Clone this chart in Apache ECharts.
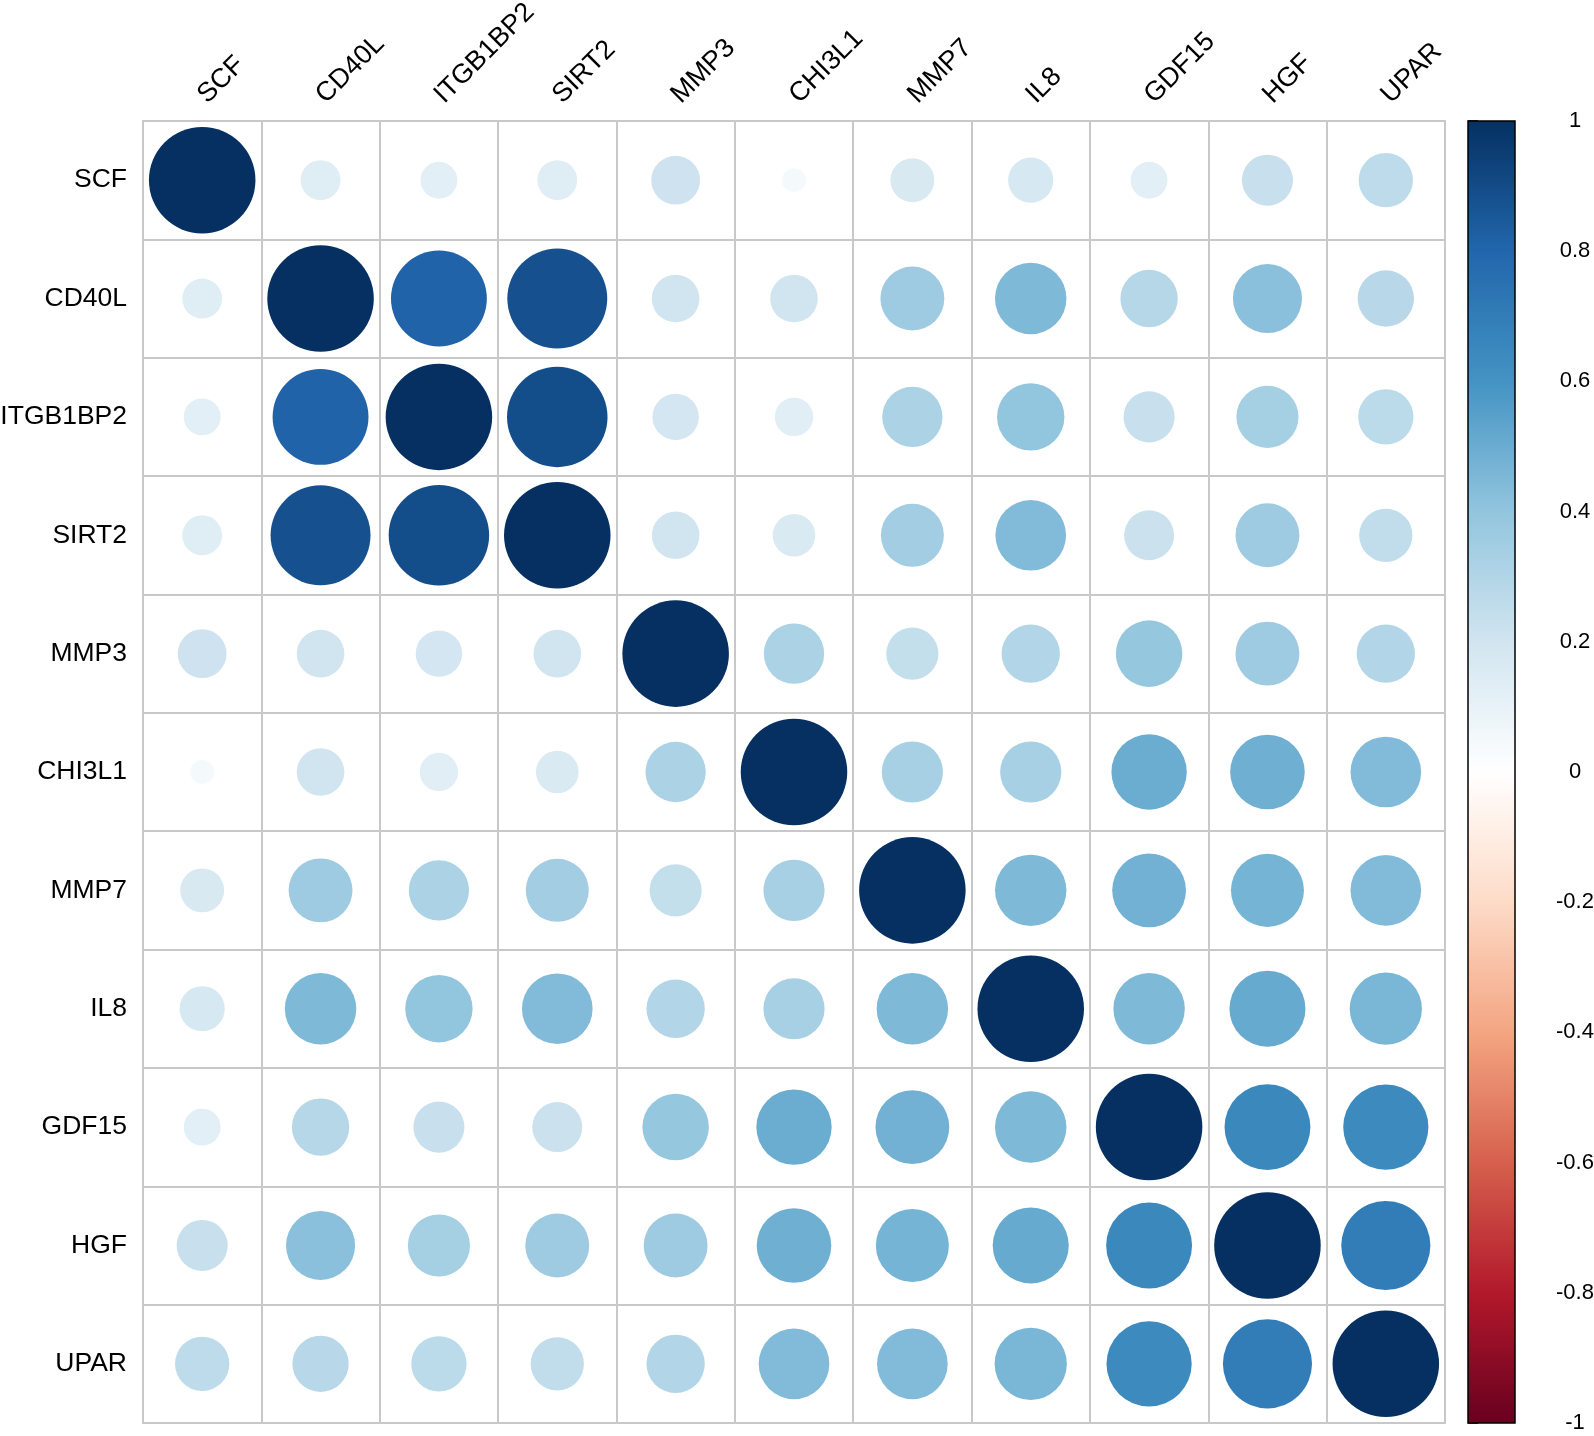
<!DOCTYPE html>
<html><head><meta charset="utf-8">
<script src="https://cdn.jsdelivr.net/npm/echarts@6/dist/echarts.min.js"></script>
<style>html,body{margin:0;padding:0;background:#fff}#c{width:1594px;height:1436px}</style>
</head><body><div id="c"></div>
<script>
const labels = ['SCF','CD40L','ITGB1BP2','SIRT2','MMP3','CHI3L1','MMP7','IL8','GDF15','HGF','UPAR'];
const rowSCF      = [1.00, 0.14, 0.12, 0.14, 0.21, 0.05, 0.17, 0.18, 0.12, 0.23, 0.26];
const rowCD40L    = [0.14, 1.00, 0.81, 0.88, 0.20, 0.20, 0.36, 0.45, 0.29, 0.42, 0.28];
const rowITGB1BP2 = [0.12, 0.81, 1.00, 0.89, 0.19, 0.13, 0.32, 0.40, 0.23, 0.34, 0.27];
const rowSIRT2    = [0.14, 0.88, 0.89, 1.00, 0.20, 0.16, 0.35, 0.44, 0.22, 0.36, 0.25];
const rowMMP3     = [0.21, 0.20, 0.19, 0.20, 1.00, 0.32, 0.24, 0.30, 0.39, 0.36, 0.30];
const rowCHI3L1   = [0.05, 0.20, 0.13, 0.16, 0.32, 1.00, 0.33, 0.33, 0.50, 0.49, 0.44];
const rowMMP7     = [0.17, 0.36, 0.32, 0.35, 0.24, 0.33, 1.00, 0.45, 0.48, 0.47, 0.44];
const rowIL8      = [0.18, 0.45, 0.40, 0.44, 0.30, 0.33, 0.45, 1.00, 0.45, 0.51, 0.46];
const rowGDF15    = [0.12, 0.29, 0.23, 0.22, 0.39, 0.50, 0.48, 0.45, 1.00, 0.65, 0.64];
const rowHGF      = [0.23, 0.42, 0.34, 0.36, 0.36, 0.49, 0.47, 0.51, 0.65, 1.00, 0.70];
const rowUPAR     = [0.26, 0.28, 0.27, 0.25, 0.30, 0.44, 0.44, 0.46, 0.64, 0.70, 1.00];
const corr = [rowSCF, rowCD40L, rowITGB1BP2, rowSIRT2, rowMMP3, rowCHI3L1, rowMMP7, rowIL8, rowGDF15, rowHGF, rowUPAR];
const palette = ['#67001F','#B2182B','#D6604D','#F4A582','#FDDBC7','#FFFFFF','#D1E5F0','#92C5DE','#4393C3','#2166AC','#053061'];

const FONT = 'Liberation Sans, Arial, Helvetica, sans-serif';
const gridW = 1302, gridH = 1302;
const cellSize = gridW / labels.length;

const points = [];
corr.forEach((row, i) => row.forEach((v, j) => points.push([j, i, v])));

const chart = echarts.init(document.getElementById('c'), null, {renderer: 'canvas'});
chart.setOption({
  animation: false,
  backgroundColor: '#fff',
  textStyle: {fontFamily: FONT},
  grid: [
    {left: 143, top: 121, width: gridW, height: gridH, show: true, borderColor: '#c8c8c8', borderWidth: 2,
     containLabel: false, outerBoundsMode: 'none'},
    {left: 1468, top: 121, width: 47, height: gridH, containLabel: false, outerBoundsMode: 'none'}
  ],
  xAxis: [
    {type: 'category', data: labels, gridIndex: 0, position: 'top',
     axisLine: {show: false}, axisTick: {show: false},
     splitLine: {show: true, interval: 0, lineStyle: {color: '#c8c8c8', width: 2}},
     axisLabel: {rotate: -45, interval: 0, margin: 22, fontSize: 27, color: '#000', fontFamily: FONT}},
    {type: 'value', gridIndex: 1, min: 0, max: 1, show: false}
  ],
  yAxis: [
    {type: 'category', data: labels, gridIndex: 0, inverse: true,
     axisLine: {show: false}, axisTick: {show: false},
     splitLine: {show: true, interval: 0, lineStyle: {color: '#c8c8c8', width: 2}},
     axisLabel: {interval: 0, margin: 16, fontSize: 26.5, color: '#000', fontFamily: FONT}},
    {type: 'value', gridIndex: 1, min: -1, max: 1, interval: 0.2, position: 'right',
     axisLine: {show: false}, splitLine: {show: false},
     axisTick: {show: true, length: 10, lineStyle: {color: '#000', width: 1.5}},
     axisLabel: {margin: 60, align: 'center', fontSize: 22, color: '#000', fontFamily: FONT}}
  ],
  visualMap: {
    type: 'continuous', show: false, min: -1, max: 1, dimension: 2, seriesIndex: 0,
    inRange: {color: palette}
  },
  series: [
    {type: 'scatter', xAxisIndex: 0, yAxisIndex: 0, data: points,
     symbol: 'circle',
     symbolSize: (val) => 0.9 * cellSize * Math.sqrt(Math.abs(val[2])),
     itemStyle: {opacity: 1}, z: 3},
    {type: 'custom', xAxisIndex: 1, yAxisIndex: 1, data: [[0, -1, 1]],
     renderItem: function (params, api) {
       const p0 = api.coord([0, api.value(2)]);
       const p1 = api.coord([1, api.value(1)]);
       const stops = palette.slice().reverse().map((c, i) => ({offset: i / (palette.length - 1), color: c}));
       return {type: 'rect',
         shape: {x: p0[0], y: p0[1], width: p1[0] - p0[0], height: p1[1] - p0[1]},
         style: {fill: new echarts.graphic.LinearGradient(0, 0, 0, 1, stops), stroke: '#000', lineWidth: 1.5}};
     }}
  ]
});
</script></body></html>
